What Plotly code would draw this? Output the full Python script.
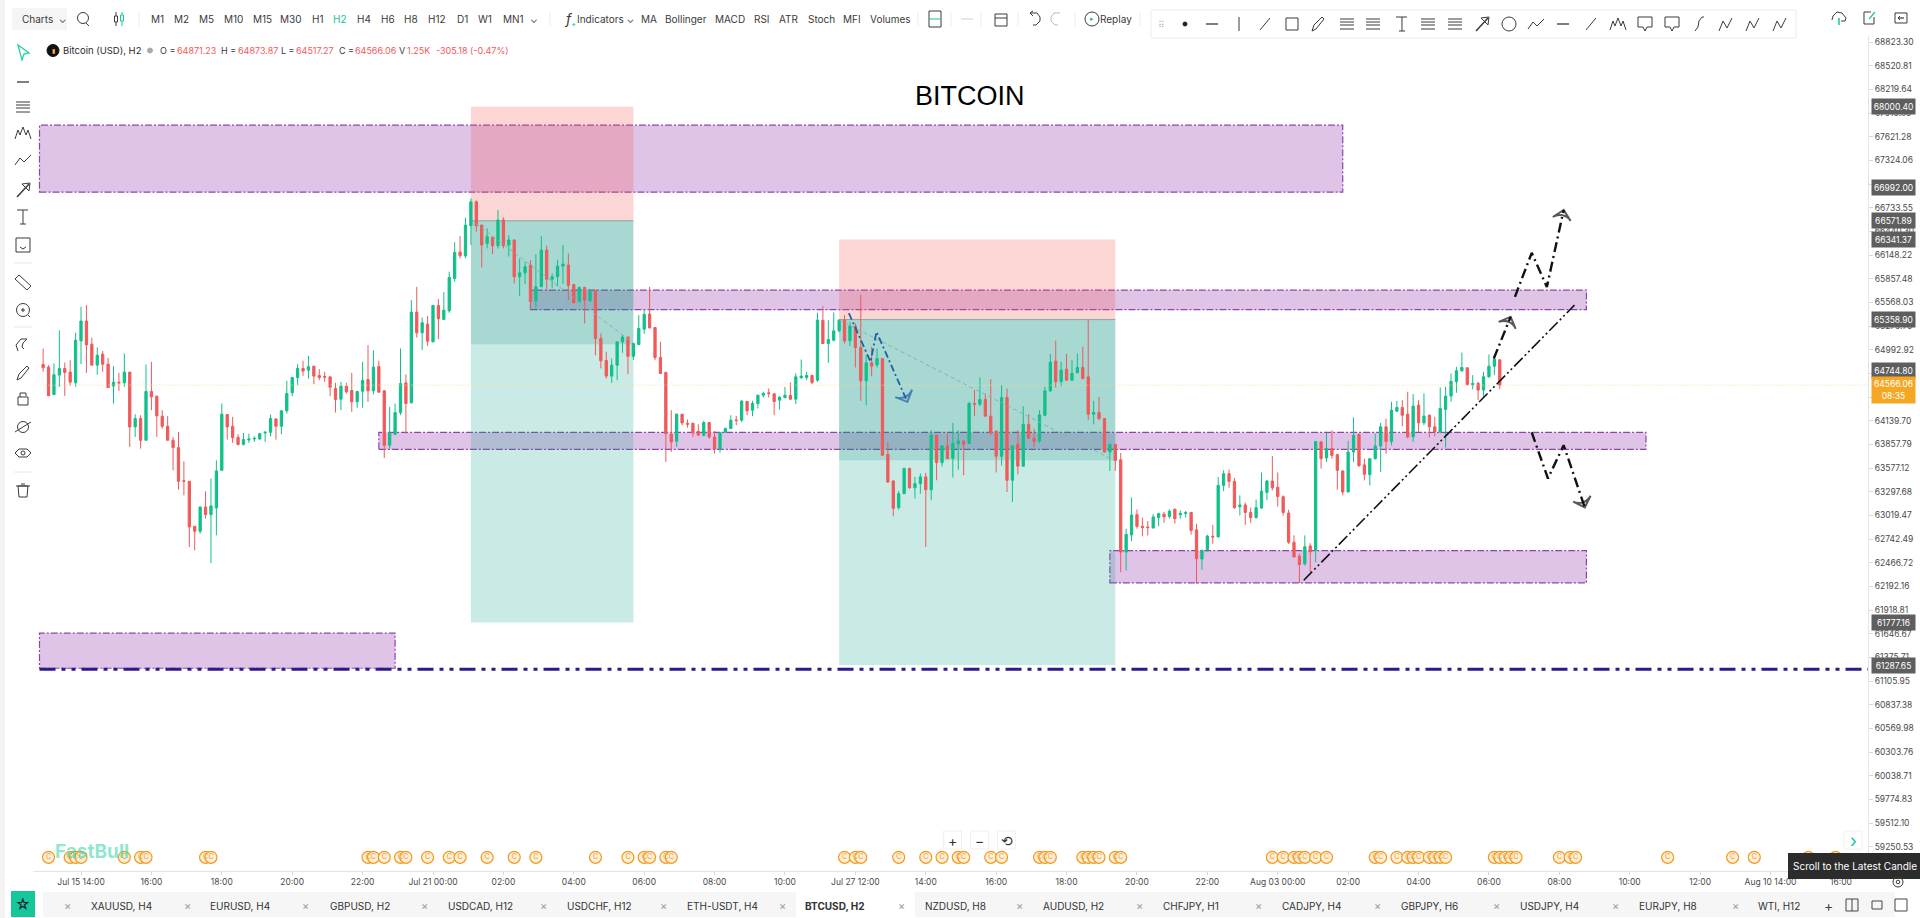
import math
import pandas as pd
import plotly.graph_objects as go

# ---------- DATA ----------
opens = [64815,64783,64454,64687,64767,64723,64594,65100,65341,65060,
64807,64940,64819,64554,64602,64594,64723,64066,64166,63907,
64490,64434,64194,64074,63907,63820,63429,63421,62892,62834,
63119,63029,63107,63551,64214,64074,63942,63858,63910,63922,
63922,63994,64002,64162,64074,64258,64474,64658,64767,64747,
64795,64682,64670,64666,64526,64398,64554,64502,64366,64494,
64634,64498,64791,64498,63848,63978,64238,64594,64354,65450,
65198,65305,65088,65531,65361,65466,65861,66186,66137,66510,
66808,66519,66292,66368,66264,66581,66272,66335,65882,65931,
66025,65588,65759,66210,65853,65882,66013,66025,65787,65576,
65751,65588,65718,65129,64864,64675,64807,65088,65148,64914,
65056,65242,65426,65262,64900,64719,63978,63895,64218,64110,
64110,64014,63966,64118,63946,63804,64002,64046,64150,64146,
64370,64266,64346,64446,64474,64462,64386,64418,64442,64398,
64654,64658,64682,64626,65349,65068,65108,65222,65353,65102,
65281,65021,64618,64835,64811,64887,63741,63425,63111,63275,
63571,63345,63393,63473,63321,63967,63641,63840,63693,63867,
63899,63867,64346,64338,64394,64194,64018,63717,64418,63433,
63859,63600,64098,63931,63899,64206,64498,64855,64610,64759,
64626,64715,64779,64666,64218,64238,64166,63767,63859,63675,
62591,62790,63029,62892,62885,62873,62994,63034,63006,63092,
63027,63043,63055,62851,62510,62620,62775,62767,63372,63511,
63420,63122,63142,63054,62994,63106,63290,63424,63352,63238,
63047,62706,62542,62454,62662,62612,63888,63697,63808,63736,
63543,63295,63768,63975,63615,63499,63689,63840,64067,63894,
64254,64298,64219,63947,64327,64115,64207,64067,64007,64275,
64435,64607,64739,64775,64571,64587,64507,64667,64795,64871.23]
highs = [65008,64807,64827,65228,64839,64867,65200,65515,65535,65140,
65020,64980,64895,64795,64714,64948,64723,64218,64206,64815,
64847,64434,64266,64194,63946,64007,63657,63421,62892,63119,
63303,63453,63669,64346,64218,64186,63978,63994,63986,63954,
63994,64018,64214,64166,64266,64618,64666,64819,64860,64920,
64795,64759,64727,64666,64594,64606,64594,64714,64498,64847,
65049,64988,64860,64506,64306,64346,65008,64695,65596,65759,
65385,65401,65535,65609,65694,65944,66306,66384,66610,66850,
66825,66519,66478,66376,66705,66613,66396,66335,66108,66068,
66087,66160,66384,66264,65922,66092,66272,66168,65787,65759,
65759,65710,65718,65190,64968,64888,65096,65170,65148,65068,
65414,65482,65759,65266,65088,64727,64266,64226,64218,64154,
64114,64098,64138,64126,64018,63998,64058,64206,64198,64386,
64378,64378,64446,64486,64526,64466,64434,64546,64598,64706,
64875,64727,64686,65442,65523,65353,65446,65353,65414,65333,
65313,65659,64926,65029,65009,64887,63888,63433,63307,63583,
63583,63473,63513,63521,64027,63967,63848,63987,64114,64027,
63907,64366,64506,64658,64466,64638,64018,64566,64526,63848,
64027,64314,64218,64046,64266,64546,64942,65102,64847,64942,
64867,64948,65029,65354,64378,64426,64166,63867,63859,63755,
62864,63229,63089,62994,62954,63034,63050,63061,63090,63099,
63079,63071,63059,62922,62612,62791,62908,63471,63551,63559,
63463,63255,63170,63112,63206,63526,63439,63721,63526,63255,
63086,62786,62574,62786,62694,63900,63900,63995,64027,63748,
63551,63900,64179,63987,63689,63689,63987,64114,64166,64366,
64374,64386,64487,64459,64387,64467,64207,64187,64539,64547,
64707,64787,64959,64779,64687,64607,64727,64935,64927,64873.87]
lows = [64727,64438,64446,64546,64438,64558,64546,64819,64714,64807,
64691,64727,64538,64346,64498,64546,63828,63946,63808,63907,
64266,63946,64046,63907,63551,63322,63256,62650,62611,62806,
62982,62463,62787,63551,63915,63876,63846,63846,63876,63887,
63915,63887,63954,63915,63978,64226,64434,64566,64678,64646,
64578,64626,64606,64434,64238,64266,64466,64246,64294,64294,
64366,64454,64478,63697,63808,63978,64206,63986,64346,65140,
64988,65040,65088,65120,65353,65442,65821,66108,66108,66272,
66437,65997,66231,66160,66231,66231,66130,65800,65644,65792,
65482,65494,65759,65710,65747,65767,65792,65596,65556,65572,
65313,65576,64926,64767,64646,64594,64626,64956,64699,64867,
65048,65186,65250,64867,64707,63649,63768,63828,64086,64058,
63946,63954,63954,63926,63749,63760,63994,64046,64086,64126,
64206,64194,64286,64418,64418,64206,64274,64406,64386,64338,
64646,64626,64578,64606,65068,64835,65096,65206,65068,65037,
64779,64378,64326,64674,64779,63729,63401,63009,63087,63275,
63333,63216,63275,62650,63197,63433,63597,63689,63465,63559,
63493,63867,64194,64314,64194,63967,63526,63608,63295,63177,
63503,63596,63931,63827,63875,64194,64486,64538,64554,64626,
64626,64707,64634,64146,64098,64146,63767,63543,63543,62357,
62376,62718,62864,62775,62786,62865,62892,62932,62982,62924,
62982,62994,62795,62222,62384,62592,62686,62767,63305,63344,
63097,63018,62908,62932,62982,63097,63198,63313,63124,63018,
62686,62526,62230,62434,62360,62472,63571,63651,63689,63322,
63255,63295,63651,63591,63431,63372,63677,63531,63748,63848,
64246,64074,63927,63887,64007,64087,63939,63955,63987,63819,
64367,64475,64727,64567,64515,64387,64427,64655,64687,64517.27]
closes = [64775,64438,64691,64767,64719,64602,65108,65341,65052,64807,
64926,64819,64538,64602,64594,64723,64066,64166,63907,64490,
64426,64198,64074,63907,63820,63421,63421,62884,62834,63119,
63029,63131,63543,64218,64066,63938,63858,63915,63922,63930,
63986,64002,64166,64074,64258,64466,64658,64767,64735,64787,
64675,64658,64662,64542,64394,64554,64486,64366,64490,64622,
64498,64783,64482,63848,63994,64238,64586,64346,65450,65198,
65321,65096,65531,65369,65474,65874,66182,66141,66519,66808,
66510,66272,66376,66264,66581,66264,66335,65882,65931,66005,
65576,65759,66210,65853,65882,66013,66037,65775,65564,65751,
65596,65698,65129,64860,64675,64807,65088,65148,64914,65068,
65250,65422,65258,64900,64707,63986,63887,64218,64114,64098,
63994,63970,64118,63946,63804,63998,64046,64146,64142,64374,
64258,64346,64446,64466,64466,64370,64422,64446,64398,64666,
64675,64682,64598,65353,65068,65116,65222,65353,65100,65281,
65021,64618,64835,64795,64887,63729,63413,63103,63275,63571,
63345,63393,63473,63321,63967,63641,63840,63689,63867,63899,
63859,64346,64338,64394,64194,63994,63717,64418,63433,63840,
63600,64098,63931,63895,64210,64498,64843,64606,64747,64626,
64707,64779,64646,64218,64238,64166,63767,63859,63667,62591,
62798,63025,62892,62877,62877,63002,63041,63002,63070,62982,
63043,63052,62843,62514,62612,62778,62767,63372,63511,63420,
63110,63142,63054,62994,63110,63305,63424,63344,63242,63054,
62706,62534,62446,62654,62594,63892,63689,63808,63728,63551,
63295,63768,63967,63607,63503,63689,63840,64067,63894,64266,
64298,64206,63947,64315,64115,64195,64067,64007,64287,64435,
64611,64739,64779,64571,64587,64507,64667,64795,64879,64566.06]

first_candle = "2024-07-15 00:00"
x_tick_start = "2024-07-15 14:00"
x_tick_labels = ["Jul 15 14:00","16:00","18:00","20:00","22:00","Jul 21 00:00","02:00","04:00","06:00","08:00","10:00",
                 "Jul 27 12:00","14:00","16:00","18:00","20:00","22:00","Aug 03 00:00","02:00","04:00","06:00","08:00","10:00","12:00",
                 "Aug 10 14:00","16:00"]
price_ticks = ["68823.30","68520.81","68219.64","67919.85","67621.28","67324.06","67028.20","66733.55","66440.30","66148.22",
               "65857.48","65568.03","65279.70","64992.92","64706.10","64422.40","64139.70","63857.79","63577.12","63297.68",
               "63019.47","62742.49","62466.72","62192.16","61918.81","61646.67","61375.71","61105.95","60837.38","60569.98",
               "60303.76","60038.71","59774.83","59512.10","59250.53"]
price_tags = [68000.40, 66992.00, 66571.89, 66341.37, 65358.90, 64744.80, 61777.16, 61287.65]
last_price = 64566.06
event_bars = [1,5,6,7,15,18,19,30,31,60,61,63,66,67,71,75,77,82,87,91,102,108,111,112,115,116,148,150,151,158,163,166,169,170,
              175,177,184,185,186,192,193,194,195,198,199,227,229,231,232,233,235,237,246,247,250,252,253,254,256,257,258,259,
              268,269,270,271,272,280,282,283,300,312,316,326,331]
event_price = 59134

# zones: (start, end, low price, high price)
bands = [("2024-07-14 22:40","2024-08-04 00:00",66928,67768),
         ("2024-07-14 22:40","2024-07-20 10:00",61252,61653),
         ("2024-07-22 12:00","2024-08-07 18:00",65480,65718),
         ("2024-07-20 04:00","2024-08-08 16:00",63798,64000),
         ("2024-07-31 10:00","2024-08-07 18:00",62232,62607)]
# position tools: (start, end, stop price, entry, target, reached price)
positions = [("2024-07-21 14:00","2024-07-24 02:00",68000.40,66571.89,61777.16,65061),
             ("2024-07-27 06:00","2024-07-31 12:00",66341.37,65358.90,61287.65,63671)]
floor_x = ["2024-07-14 22:40","2024-08-12 02:00"]
floor_y = [61241,61241]
blue_x = ["2024-07-27 09:36","2024-07-27 17:36","2024-07-27 19:48","2024-07-28 07:12"]
blue_y = [65437,64847,65210,64366]
gray1_x = ["2024-07-21 15:48","2024-07-24 02:12"]
gray1_y = [66539,65069]
gray2_x = ["2024-07-27 05:48","2024-07-31 11:24"]
gray2_y = [65359,63671]
trend_x = ["2024-08-03 09:36","2024-08-07 13:36"]
trend_y = [62264,65535]
upa_x = ["2024-08-06 07:48","2024-08-06 14:00"]
upa_y = [64888,65392]
upb_x = ["2024-08-06 15:36","2024-08-06 21:48","2024-08-07 03:24","2024-08-07 09:36"]
upb_y = [65636,66176,65758,66706]
dn_x = ["2024-08-06 21:48","2024-08-07 03:48","2024-08-07 09:36","2024-08-07 17:24"]
dn_y = [64000,63454,63849,63113]

# ---------- PAGE GEOMETRY ----------
L, R, T, B = 33, 1868, 36, 871
def px(x): return (x - L) / (R - L)
def py(y): return (B - y) / (B - T)
UI = "Inter, Roboto, sans-serif"
GREEN, RED = "#10c08a", "#ef5a5a"
INK = "#3a3a3a"

shapes, notes = [], []

def label(x, y, s, size=10, color=INK, anchor="center", bold=False, **kw):
    notes.append(dict(x=px(x), y=py(y), xref="paper", yref="paper", text=("<b>%s</b>" % s) if bold else s,
                      showarrow=False, xanchor=anchor, yanchor="middle",
                      font=dict(family=UI, size=size, color=color), **kw))

def box(x0, y0, x1, y1, fill, line="rgba(0,0,0,0)", w=0):
    shapes.append(dict(type="rect", xref="paper", yref="paper", x0=px(x0), x1=px(x1), y0=py(y0), y1=py(y1),
                       fillcolor=fill, line=dict(color=line, width=w)))

def poly(cx, cy, pts, color=INK, w=1, closed=False):
    p = " ".join(("M" if i == 0 else "L") + " %f %f" % (px(cx + a), py(cy + b)) for i, (a, b) in enumerate(pts))
    shapes.append(dict(type="path", xref="paper", yref="paper", path=p + (" Z" if closed else ""), line=dict(color=color, width=w)))

def ring(cx, cy, r, color=INK, w=1, fill="rgba(0,0,0,0)"):
    shapes.append(dict(type="circle", xref="paper", yref="paper", x0=px(cx - r), x1=px(cx + r), y0=py(cy + r), y1=py(cy - r),
                       line=dict(color=color, width=w), fillcolor=fill))

def icon(kind, cx, cy, color=INK):
    if kind == "h": poly(cx, cy, [(-6, 0), (6, 0)], color, 1.3)
    elif kind == "v": poly(cx, cy, [(0, -7), (0, 7)], color, 1)
    elif kind == "slash": poly(cx, cy, [(-5, 6), (5, -6)], color, 1)
    elif kind == "rect": poly(cx, cy, [(-6, -6), (6, -6), (6, 6), (-6, 6)], color, 1, True)
    elif kind == "lines":
        for d in (-5, -2, 1, 5): poly(cx, cy, [(-7, d), (7, d)], color, 1)
    elif kind == "arrow":
        poly(cx, cy, [(-6, 7), (6, -6)], color, 1.5)
        poly(cx, cy, [(-1, -6), (7, -7), (6, 1)], color, 1, True)
    elif kind == "circle": ring(cx, cy, 7, color, 1)
    elif kind == "zig": poly(cx, cy, [(-8, 5), (-3, -2), (1, 2), (8, -5)], color, 1)
    elif kind == "mount": poly(cx, cy, [(-8, 6), (-5, -3), (-3, 2), (0, -6), (3, 2), (5, -3), (8, 6)], color, 1)
    elif kind == "T":
        poly(cx, cy, [(-6, -7), (5, -7)], color, 1); poly(cx, cy, [(0, -7), (0, 7)], color, 1); poly(cx, cy, [(-3, 7), (3, 7)], color, 1)
    elif kind == "brush":
        poly(cx, cy, [(-6, 7), (-4, 1), (4, -7), (6, -5), (-2, 5)], color, 1, True)
    elif kind == "bubble":
        poly(cx, cy, [(-7, -7), (7, -7), (7, 3), (2, 3), (0, 7), (-2, 3), (-7, 3)], color, 1, True)
    elif kind == "S": poly(cx, cy, [(-4, 7), (-1, 3), (0, -3), (3, -7), (5, -7)], color, 1)
    elif kind == "wave": poly(cx, cy, [(-7, 7), (-3, -3), (1, 4), (6, -6)], color, 1)
    elif kind == "cursor": poly(cx, cy, [(-5, -8), (6, 0), (1, 1), (-1, 7)], color, 1.3, True)
    elif kind == "ruler": poly(cx, cy, [(-8, -3), (-4, -7), (8, 4), (4, 8)], color, 1, True)
    elif kind == "zoom":
        ring(cx, cy, 6.5, color, 1); poly(cx, cy, [(-2, 0), (2, 0)], color, 1); poly(cx, cy, [(0, -2), (0, 2)], color, 1); poly(cx, cy, [(5, 5), (7, 7)], color, 1)
    elif kind == "lock":
        poly(cx, cy, [(-5, -1), (5, -1), (5, 7), (-5, 7)], color, 1, True); poly(cx, cy, [(-3, -1), (-3, -5), (3, -5), (3, -2)], color, 1)
    elif kind == "eye":
        poly(cx, cy, [(-8, 0), (-4, -4), (4, -4), (8, 0), (4, 4), (-4, 4)], color, 1, True); ring(cx, cy, 2, color, 1)
    elif kind == "trash":
        poly(cx, cy, [(-5, -4), (5, -4), (4, 7), (-4, 7)], color, 1, True); poly(cx, cy, [(-7, -4), (7, -4)], color, 1); poly(cx, cy, [(-2, -6), (2, -6)], color, 1)
    elif kind == "planet":
        ring(cx, cy, 5.5, color, 1); poly(cx, cy, [(-8, 5), (8, -5)], color, 1)
    elif kind == "magnet":
        poly(cx, cy, [(-5, 6), (-7, 0), (-2, -6), (4, -6), (0, -2), (-1, 2), (1, 4)], color, 1)
    elif kind == "face":
        poly(cx, cy, [(-7, -7), (7, -7), (7, 7), (-7, 7)], color, 1, True); poly(cx, cy, [(-3, 2), (0, 4), (3, 2)], color, 1)
    elif kind == "cal":
        poly(cx, cy, [(-6, -5), (6, -5), (6, 7), (-6, 7)], color, 1, True); poly(cx, cy, [(-6, -1), (6, -1)], color, 1)
    elif kind == "undo":
        poly(cx, cy, [(-4, -6), (2, -6), (5, -2), (5, 2), (1, 6), (-2, 6)], color, 1); poly(cx, cy, [(-2, -8), (-5, -6), (-2, -3)], color, 1)
    elif kind == "redo":
        poly(cx, cy, [(4, -6), (-2, -6), (-5, -2), (-5, 2), (-1, 6), (2, 6)], color, 1)
    elif kind == "search":
        ring(cx, cy - 1, 5.5, color, 1); poly(cx, cy, [(3, 4), (6, 7)], color, 1)
    elif kind == "cloud":
        poly(cx, cy, [(-7, 2), (-6, -2), (-2, -6), (3, -5), (7, 0), (6, 3), (2, 3)], color, 1); poly(cx, cy, [(0, 0), (0, 7)], "#18c79a", 1.5)
    elif kind == "share":
        poly(cx, cy, [(5, -1), (5, 6), (-5, 6), (-5, -6), (2, -6)], color, 1); poly(cx, cy, [(0, 1), (6, -6)], "#18c79a", 1.2)
    elif kind == "exit":
        poly(cx, cy, [(-6, -5), (6, -5), (6, 5), (-6, 5)], color, 1, True); poly(cx, cy, [(-3, 0), (3, 0)], color, 1.2); poly(cx, cy, [(-1, -2), (-3, 0), (-1, 2)], color, 1)
    elif kind == "gear":
        ring(cx, cy, 5, color, 1); ring(cx, cy, 1.8, color, 1)
    elif kind == "candle":
        poly(cx, cy, [(-3, -7), (-3, 7)], color, 1); poly(cx, cy, [(3, -7), (3, 7)], "#18c79a", 1)
        box(cx - 4.5, cy - 3, cx - 1.5, cy + 3, "#ffffff", color, 1); box(cx + 1.5, cy - 4, cx + 4.5, cy + 2, "#ffffff", "#18c79a", 1)

# ---------- PRICE ZONES (drawn under the candles) ----------
for x0, x1, lo, hi in bands:
    shapes.append(dict(type="rect", xref="x", yref="y", x0=x0, x1=x1, y0=lo, y1=hi, layer="below",
                       fillcolor="rgba(166,86,189,0.35)", line=dict(color="#8e44ad", width=1.2, dash="7px,2px,2px,2px")))
for x0, x1, top, entry, deep, reached in positions:
    shapes.append(dict(type="rect", xref="x", yref="y", x0=x0, x1=x1, y0=entry, y1=top, layer="below",
                       fillcolor="rgba(242,80,80,0.24)", line=dict(width=0)))
    shapes.append(dict(type="rect", xref="x", yref="y", x0=x0, x1=x1, y0=deep, y1=entry, layer="below",
                       fillcolor="rgba(15,165,135,0.22)", line=dict(width=0)))
    shapes.append(dict(type="rect", xref="x", yref="y", x0=x0, x1=x1, y0=reached, y1=entry, layer="below",
                       fillcolor="rgba(15,140,120,0.19)", line=dict(width=0)))
    shapes.append(dict(type="line", xref="x", yref="y", x0=x0, x1=x1, y0=entry, y1=entry, layer="below",
                       line=dict(color="#8aa5a0", width=1)))

# ---------- CHROME ----------
box(0, 0, 5, 918, "#f3f3f3")
# top bar
box(12, 8, 67, 30, "#f5f5f5")
label(20, 19, "Charts  ⌄", 10, anchor="left")
icon("search", 83, 19)
icon("candle", 119, 19)
for x, s, c in [(157,"M1",INK),(181,"M2",INK),(206,"M5",INK),(233,"M10",INK),(262,"M15",INK),(291,"M30",INK),(318,"H1",INK),
                (340,"H2","#14c19a"),(364,"H4",INK),(388,"H6",INK),(411,"H8",INK),(437,"H12",INK),(462,"D1",INK),(485,"W1",INK),(513,"MN1",INK),
                (534,"⌄",INK),(605,"Indicators ⌄",INK),(649,"MA",INK),(686,"Bollinger",INK),(730,"MACD",INK),(762,"RSI",INK),(789,"ATR",INK),
                (821,"Stoch",INK),(852,"MFI",INK),(890,"Volumes",INK),(1116,"Replay",INK)]:
    label(x, 19, s, 10, c)
label(568, 19, "<i>f</i>", 14, INK)
label(573, 24, "+", 8, "#14c19a")
for x in (139, 550, 918, 951, 981, 1018, 1075, 1140):
    poly(x, 19, [(0, -7), (0, 7)], "#ececec", 1)
box(929, 11, 941, 27, "#ffffff", "#3a3a3a", 1); poly(935, 19, [(-6, 0), (6, 0)], "#14c19a", 1)
icon("h", 967, 19, "#d8d8d8")
icon("cal", 1001, 19)
icon("undo", 1035, 19)
icon("redo", 1056, 19, "#bcbcbc")
ring(1092, 19, 7, INK, 1); label(1092, 19, "▸", 7, "#14c19a")
# drawing toolbar
box(1151, 10, 1796, 38, "#ffffff", "#ededed", 1)
label(1161, 24, "⠿", 9, "#b5b5b5")
ring(1185, 24, 2, "#222", 1, "#222")
for x, k in [(1212,"h"),(1239,"v"),(1265,"slash"),(1292,"rect"),(1318,"brush"),(1347,"lines"),(1373,"lines"),(1402,"T"),(1428,"lines"),(1455,"lines"),
             (1482,"arrow"),(1509,"circle"),(1536,"zig"),(1563,"h"),(1591,"slash"),(1618,"mount"),(1645,"bubble"),(1672,"bubble"),(1699,"S"),(1726,"wave"),(1753,"wave"),(1780,"wave")]:
    icon(k, x, 24)
for x, k in [(1839,"cloud"),(1869,"share"),(1901,"exit")]:
    icon(k, x, 18)
# left tools
icon("cursor", 23, 53, "#25d0a5")
for y, k in [(82,"h"),(107,"lines"),(133,"mount"),(160,"zig"),(190,"arrow"),(217,"T"),(245,"face"),(282,"ruler"),(310,"zoom"),(345,"magnet"),(373,"brush"),(398,"lock"),(427,"planet"),(453,"eye"),(490,"trash")]:
    icon(k, 23, y)
for y in (263, 327, 472):
    poly(23, y, [(-9, 0), (9, 0)], "#e8e8e8", 1)
# legend line
ring(53, 50.5, 6, "#111", 1, "#111"); label(53, 50.5, "▮", 6, "#f6b73c")
label(61, 50.5, "Bitcoin (USD), H2", 9.5, "#2b2b2b", "left")
ring(150, 50.5, 2.5, "#aaaaaa", 1, "#aaaaaa")
for x, s, c in [(158,"O =",INK),(175,"64871.23",RED),(219,"H =",INK),(236,"64873.87",RED),(279,"L =",INK),(294,"64517.27",RED),
                (337,"C =",INK),(353,"64566.06",RED),(397,"V",INK),(405,"1.25K",RED),(434,"-305.18 (-0.47%)",RED)]:
    label(x, 50.5, s, 9, c, "left")
# title
label(970, 96, "BITCOIN", 27, "#000000")
notes[-1]["font"]["family"] = "Liberation Sans, Arial, sans-serif"
# bottom tab strip
box(43, 892, 1895, 917, "#f6f6f6")
box(11, 891, 35, 917, "#16c79a")
label(23, 904, "☆", 15, "#123")
box(796, 892, 915, 917, "#ffffff")
tabs = [(67,89,"XAUUSD, H4"),(187,208,"EURUSD, H4"),(305,328,"GBPUSD, H2"),(424,446,"USDCAD, H12"),(543,565,"USDCHF, H12"),(663,685,"ETH-USDT, H4"),
        (782,803,"BTCUSD, H2"),(901,923,"NZDUSD, H8"),(1020,1041,"AUDUSD, H2"),(1139,1161,"CHFJPY, H1"),(1258,1280,"CADJPY, H4"),(1377,1399,"GBPJPY, H6"),
        (1496,1518,"USDJPY, H4"),(1615,1637,"EURJPY, H8"),(1735,1756,"WTI, H12")]
for xc, xt, s in tabs:
    label(xc, 906, "×", 11, "#9a9a9a")
    label(xt, 906, s, 10, "#333333", "left", bold=(s == "BTCUSD, H2"))
label(1828, 905, "+", 14, "#444")
icon("rect", 1852, 905, "#444"); poly(1852, 905, [(0, -6), (0, 6)], "#444", 1)
box(1872, 901, 1882, 909, "rgba(0,0,0,0)", "#444", 1)
box(1895, 899, 1907, 911, "rgba(0,0,0,0)", "#444", 1)
# chart buttons
for x, s in [(952.6,"+"),(979.6,"−"),(1006.5,"⟲"),(1853,"›")]:
    box(x - 9, 831, x + 9, 849, "#ffffff", "#f0f0f0", 1)
    label(x, 840, s, 14 if x != 1853 else 18, "#14c19a" if x == 1853 else "#333")
label(92, 851, "FastBull", 19, "rgba(45,210,170,0.55)", bold=True)
box(1788, 853, 1920, 879, "#2c2c2c")
label(1855, 866, "Scroll to the Latest Candle", 10, "#ffffff")
icon("gear", 1898, 882)

# price tags on the axis
for p in price_tags:
    notes.append(dict(x=1.0, y=math.log10(p), xref="paper", yref="y", xshift=3, showarrow=False, xanchor="left", yanchor="middle",
                      text="%.2f" % p, font=dict(family=UI, size=8.5, color="#ffffff"), bgcolor="#5e5e5e", width=43, height=15, borderpad=0))
notes.append(dict(x=1.0, y=math.log10(last_price), xref="paper", yref="y", xshift=3, yshift=-5, showarrow=False, xanchor="left", yanchor="middle",
                  text="%.2f<br>08:35" % last_price, font=dict(family=UI, size=8.5, color="#ffffff"), bgcolor="#f5a623", width=43, height=26, borderpad=0))

# ---------- TRACES ----------
times = pd.date_range(first_candle, periods=len(opens), freq="2h")
fig = go.Figure()
fig.add_trace(go.Candlestick(x=times, open=opens, high=highs, low=lows, close=closes, whiskerwidth=0, showlegend=False,
                             increasing=dict(line=dict(color=GREEN, width=1), fillcolor=GREEN),
                             decreasing=dict(line=dict(color=RED, width=1), fillcolor=RED)))

def path_trace(xs, ys, color, width, dash, head=True, size=13):
    n = len(xs)
    fig.add_trace(go.Scatter(x=xs, y=ys, mode="lines+markers", showlegend=False, hoverinfo="skip",
                             line=dict(color=color, width=width, dash=dash),
                             marker=dict(symbol=["circle"] * (n - 1) + ["arrow-wide-open"], angleref="previous",
                                         size=[0] * (n - 1) + [size if head else 0], color=color,
                                         line=dict(color=color, width=2))))

fig.add_trace(go.Scatter(x=[floor_x[0], floor_x[1]], y=[last_price, last_price], mode="lines", showlegend=False, hoverinfo="skip",
                         line=dict(color="#f7d9a0", width=1, dash="1px,2px")))
path_trace(gray1_x, gray1_y, "#8fb0ab", 1, "4px,3px", head=False)
path_trace(gray2_x, gray2_y, "#8fb0ab", 1, "4px,3px", head=False)
path_trace(floor_x, floor_y, "#2b1a8c", 3, "16px,6px,4px,6px,4px,6px", head=False)
path_trace(blue_x, blue_y, "#1e5fa8", 1.8, "7px,3px,2px,3px")
path_trace(trend_x, trend_y, "#111111", 1.6, "12px,3px,2px,3px,2px,3px", head=False)
path_trace(upa_x, upa_y, "#111111", 2.4, "10px,4px,2px,4px")
path_trace(upb_x, upb_y, "#111111", 2.4, "10px,4px,2px,4px")
path_trace(dn_x, dn_y, "#111111", 2.4, "10px,4px,2px,4px")

event_times = [times[0] + pd.Timedelta(hours=2 * b) for b in event_bars]
fig.add_trace(go.Scatter(x=event_times, y=[event_price] * len(event_bars), mode="markers+text", text=["C"] * len(event_bars),
                         textposition="middle center", textfont=dict(size=7, color="#f39a1e", family=UI), showlegend=False, hoverinfo="skip",
                         marker=dict(symbol="circle", size=12, color="#fdeed8", line=dict(color="#f39a1e", width=1.2))))

tick_times = pd.date_range(x_tick_start, periods=len(x_tick_labels), freq="26h")
fig.update_layout(
    width=1920, height=918, autosize=False, paper_bgcolor="#ffffff", plot_bgcolor="#ffffff",
    margin=dict(l=L, r=1920 - R, t=T, b=918 - B, pad=0, autoexpand=False), showlegend=False, boxgap=0.4,
    xaxis=dict(type="date", range=["2024-07-14 20:16", "2024-08-12 02:00"], rangeslider=dict(visible=False), showgrid=False, zeroline=False,
               tickmode="array", tickvals=list(tick_times), ticktext=x_tick_labels, ticks="outside", ticklen=3, tickcolor="#d8d8d8",
               tickfont=dict(family=UI, size=8.5, color="#4a4a4a"), showline=True, linecolor="#e4e4e4", linewidth=1),
    yaxis=dict(type="log", side="right", range=[4.77073, 4.83823], showgrid=False, zeroline=False,
               tickmode="array", tickvals=[float(p) for p in price_ticks], ticktext=price_ticks, ticks="outside", ticklen=4, tickcolor="#d8d8d8",
               tickfont=dict(family=UI, size=8.5, color="#4a4a4a"), showline=True, linecolor="#e4e4e4", linewidth=1),
    shapes=shapes, annotations=notes,
)
fig.write_html("out.html", config=dict(displayModeBar=False),
               post_script="document.body.style.margin='0';document.body.style.overflow='hidden';")
